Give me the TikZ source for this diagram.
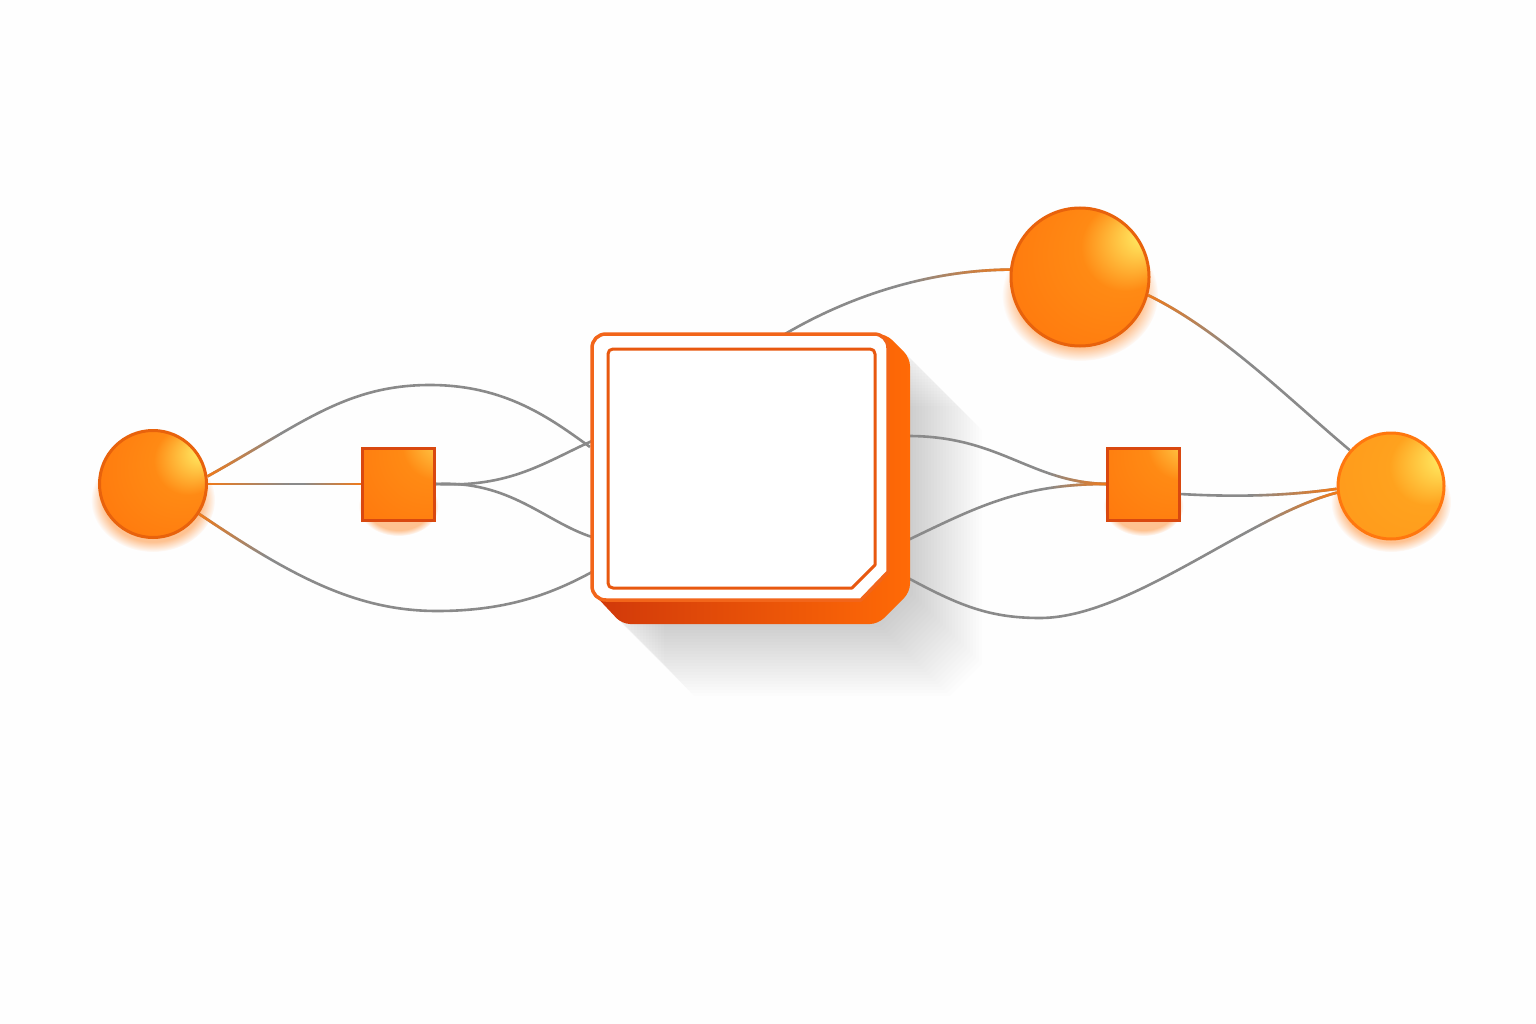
\documentclass[tikz,border=0pt]{standalone}
\usetikzlibrary{fadings,calc}
\definecolor{bgc}{HTML}{FEFEFE}
\definecolor{or1}{HTML}{FF7A0E}
\definecolor{or2}{HTML}{FF8A14}
\definecolor{ylw}{HTML}{FFF46A}
\definecolor{obrd}{HTML}{E8620C}
\definecolor{sbrd}{HTML}{D9480F}
\definecolor{orR}{HTML}{FFA21E}
\definecolor{orRb}{HTML}{FF8C12}
\definecolor{bor}{HTML}{F2651A}
\definecolor{bor2}{HTML}{E8580F}
\definecolor{exdk}{HTML}{D0380A}
\definecolor{exlt}{HTML}{FF6A06}
\definecolor{wgray}{HTML}{8A8A8A}
\definecolor{wor}{HTML}{F07A1A}
\pgfdeclareradialshading{orb}{\pgfpoint{24bp}{16bp}}{color(0bp)=(ylw); color(16bp)=(or2); color(36bp)=(or1); color(50bp)=(or1)}
\pgfdeclareradialshading{orbR}{\pgfpoint{27bp}{14bp}}{color(0bp)=(ylw); color(18bp)=(orR); color(38bp)=(orR!80!or1); color(50bp)=(orRb)}
\pgfdeclareradialshading{orbS}{\pgfpoint{40bp}{40bp}}{color(0bp)=(ylw); color(24bp)=(or2); color(50bp)=(or1); color(72bp)=(or1)}
\pgfdeclareradialshading{nearsh}{\pgfpointorigin}{color(0bp)=(white); color(20bp)=(white); color(50bp)=(black)}
\pgfdeclarefading{nearfade}{\pgfuseshading{nearsh}}
\pgfdeclarelayer{bg}
\pgfdeclarelayer{wires}
\pgfsetlayers{bg,wires,main}
\begin{document}
\begin{tikzpicture}[x=1pt,y=-1pt,line cap=round,
  orbnode/.style={circle, inner sep=0pt, shade, shading=orb, draw=obrd, line width=3pt},
  orbRnode/.style={circle, inner sep=0pt, shade, shading=orbR, draw=orRb!85!red, line width=3pt},
  sqnode/.style={rectangle, inner sep=0pt, minimum size=72pt, shade, shading=orbS, draw=sbrd, line width=3pt},
  boxarea/.style={rectangle, inner sep=0pt, minimum width=318pt, minimum height=290pt},
  wire/.style={draw=wgray, line width=2.6pt},
  near/.style 2 args={postaction={draw=wor, line width=2.6pt, fit fading=false, path fading=nearfade, fading transform={shift={(#1)}, scale=#2}}},
  glow/.style={fill=or1, opacity=.45, path fading=circle with fuzzy edge 20 percent}]
\useasboundingbox (0,0) rectangle (1536,1024);
\begin{pgfonlayer}{bg}
  \fill[bgc] (0,0) rectangle (1536,1024);
\end{pgfonlayer}

% nodes
\node[orbnode, minimum size=107pt] (L) at (153,484) {};
\node[orbnode, minimum size=138pt] (T) at (1080,277) {};
\node[orbRnode, minimum size=106pt] (R) at (1391,486) {};
\node[sqnode] (S1) at (398.5,484) {};
\node[sqnode] (S2) at (1143.5,484) {};
\node[boxarea] (B) at (751,479) {};

% box ports
\coordinate (bL1) at (590,447);
\coordinate (bL3) at (592,572);
\coordinate (bL4) at (592,441);
\coordinate (bL5) at (592,537);
\coordinate (bT)  at (785,334);
\coordinate (bR1) at (908,436);
\coordinate (bR2) at (908,540);
\coordinate (bR3) at (908,578);

% glows and shadow
\begin{pgfonlayer}{bg}
  \fill[glow] ($(L)+(0,16)$) ellipse (62pt and 52pt);
  \fill[glow] ($(T)+(0,18)$) ellipse (78pt and 66pt);
  \fill[glow] ($(R)+(0,16)$) ellipse (60pt and 50pt);
  \fill[glow] ($(S1)+(0,22)$) ellipse (40pt and 30pt);
  \fill[glow] ($(S2)+(0,22)$) ellipse (40pt and 30pt);
  \foreach \i in {1,...,24} {
    \fill[black, opacity=.0085, shift={(3*\i,3*\i)}]
      (592,334) -- (886,334) -- (910,358) -- (910,592) -- (878,624) -- (622,624) -- (592,592) -- cycle;
  }
\end{pgfonlayer}

% connectors
\begin{pgfonlayer}{wires}
  \draw[wire, near={L}{2.7}] (L.8) .. controls (300,425) and (345,385) .. (430,385) .. controls (505,385) and (550,418) .. (bL1);
  \draw[wire, near={L}{2.7}, near={S1}{1.9}] (L.east) -- (S1.west);
  \draw[wire, near={L}{2.7}] (L.-33) .. controls (290,575) and (355,611) .. (437,611) .. controls (510,611) and (555,592) .. (bL3);
  \draw[wire] (S1.east) .. controls (510,488) and (545,462) .. (bL4);
  \draw[wire] (S1.east) .. controls (510,480) and (545,522) .. (bL5);
  \draw[wire, near={T}{3.4}] (bT) .. controls (860,290) and (940,270) .. (T.174);
  \draw[wire, near={T}{3.4}] (T.-15) .. controls (1220,330) and (1290,400) .. (R.139);
  \draw[wire, near={S2}{1.9}] (bR1) .. controls (1000,436) and (1030,482) .. (S2.west);
  \draw[wire, near={S2}{1.9}] (bR2) .. controls (975,508) and (1020,484) .. (S2.west);
  \draw[wire, near={R}{2.8}] (S2.-15) .. controls (1250,498) and (1300,494) .. (R.183);
  \draw[wire, near={R}{2.8}] (bR3) .. controls (960,606) and (990,618) .. (1040,618) .. controls (1130,618) and (1250,515) .. (R.187);
\end{pgfonlayer}

% central box
\shade[left color=exdk, right color=exlt, rounded corners=8pt]
  (592,560) -- (592,592) -- (622,624) -- (878,624) -- (910,592) -- (910,358) -- (886,334) -- (800,334) -- cycle;
\draw[fill=white, draw=bor, line width=3.5pt, line join=round]
  (606,334) -- (874,334) .. controls (882,334) and (888,340) .. (888,348)
  -- (888,572) -- (861,600) -- (606,600)
  .. controls (598,600) and (592,594) .. (592,586) -- (592,348)
  .. controls (592,340) and (598,334) .. (606,334) -- cycle;
\draw[draw=bor2, line width=3pt, line join=round]
  (613,349) -- (870,349) .. controls (873,349) and (875,351) .. (875,354)
  -- (875,565) -- (852,588) -- (613,588)
  .. controls (610,588) and (608,586) .. (608,583) -- (608,354)
  .. controls (608,351) and (610,349) .. (613,349) -- cycle;
\end{tikzpicture}
\end{document}
